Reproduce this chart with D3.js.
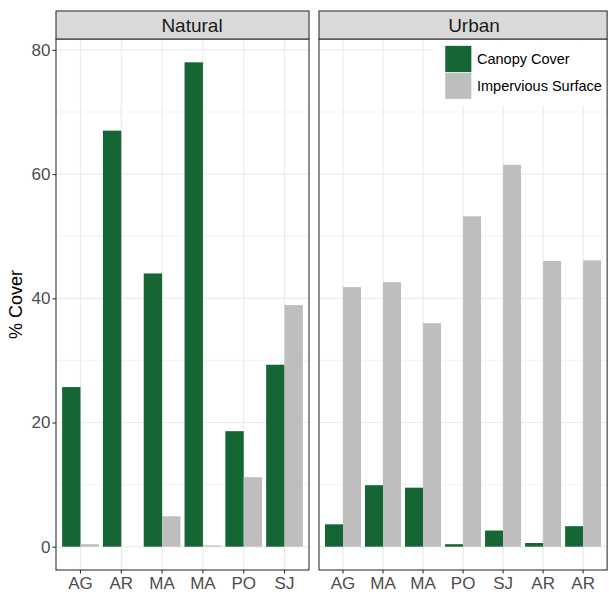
<!DOCTYPE html>
<html>
<head>
<meta charset="utf-8">
<script src="https://cdn.jsdelivr.net/npm/d3@7"></script>
<style>
  body { margin: 0; background: #fff; }
  svg { display: block; font-family: "Liberation Sans", Arial, sans-serif; }
</style>
</head>
<body>
<svg id="chart" width="609" height="597"></svg>
<script>
// ---- Data ----
const facets = ["Natural", "Urban"];
const naturalSites = ["AG", "AR", "MA", "MA", "PO", "SJ"];
const naturalCanopy = [25.7, 67.0, 44.0, 78.0, 18.6, 29.3];
const naturalImpervious = [0.4, 0.0, 4.9, 0.2, 11.2, 38.9];
const urbanSites = ["AG", "MA", "MA", "PO", "SJ", "AR", "AR"];
const urbanCanopy = [3.6, 9.9, 9.5, 0.4, 2.6, 0.6, 3.3];
const urbanImpervious = [41.8, 42.6, 36.0, 53.2, 61.5, 46.0, 46.1];
const seriesNames = ["Canopy Cover", "Impervious Surface"];
const seriesColors = ["#166534", "#bebebe"];
const yTicks = [0, 20, 40, 60, 80];
const yMinorTicks = [10, 30, 50, 70];
const yLabel = "% Cover";

// ---- Layout ----
const svg = d3.select("#chart");
const panelTop = 39, panelBottom = 570, stripTop = 11;
const natLeft = 56, natRight = 309, gap = 10;
const step = (natRight - natLeft) / (naturalSites.length + 1.2);
const stripLabelX = [192, 474];

const y = d3.scaleLinear().domain([-3.9, 81.9]).range([panelBottom + 0.9, panelTop - 0.9]);

const panels = [
  { name: facets[0], sites: naturalSites, canopy: naturalCanopy, imp: naturalImpervious, left: natLeft },
  { name: facets[1], sites: urbanSites, canopy: urbanCanopy, imp: urbanImpervious, left: natRight + gap }
];

panels.forEach((p, pi) => {
  const width = step * (p.sites.length + 1.2);
  const right = p.left + width;
  const x = d3.scaleBand()
    .domain(p.sites.map((d, i) => i))
    .range([p.left, right])
    .paddingInner(0).paddingOuter(0.1);
  const g = svg.append("g");

  const clipId = "clip" + pi;
  svg.append("clipPath").attr("id", clipId)
    .append("rect").attr("x", p.left).attr("y", panelTop).attr("width", width).attr("height", panelBottom - panelTop);
  const inner = g.append("g").attr("clip-path", `url(#${clipId})`);

  inner.append("rect").attr("x", p.left).attr("y", panelTop).attr("width", width).attr("height", panelBottom - panelTop).attr("fill", "#fff");

  // gridlines
  inner.selectAll(".hmin").data(yMinorTicks).join("line")
    .attr("x1", p.left).attr("x2", right).attr("y1", d => y(d)).attr("y2", d => y(d))
    .attr("stroke", "#ebebeb").attr("stroke-width", 0.6);
  inner.selectAll(".hmaj").data(yTicks).join("line")
    .attr("x1", p.left).attr("x2", right).attr("y1", d => y(d)).attr("y2", d => y(d))
    .attr("stroke", "#ebebeb").attr("stroke-width", 1.2);
  inner.selectAll(".vmaj").data(p.sites.map((d, i) => i)).join("line")
    .attr("x1", d => x(d) + x.bandwidth() / 2).attr("x2", d => x(d) + x.bandwidth() / 2)
    .attr("y1", panelTop).attr("y2", panelBottom)
    .attr("stroke", "#ebebeb").attr("stroke-width", 1.2);

  // bars
  const bw = x.bandwidth() * 0.45;
  [p.canopy, p.imp].forEach((vals, si) => {
    inner.selectAll(".bar" + si).data(vals).join("rect")
      .attr("x", (d, i) => x(i) + x.bandwidth() / 2 + (si === 0 ? -bw : 0))
      .attr("width", bw)
      .attr("y", d => y(Math.max(d, 0)))
      .attr("height", d => Math.abs(y(0) - y(d)))
      .attr("fill", seriesColors[si]);
  });

  // legend (Urban panel)
  if (pi === 1) {
    const lg = inner.append("g");
    lg.append("rect").attr("x", 433).attr("y", 41).attr("width", 200).attr("height", 65).attr("fill", "#fff");
    seriesNames.forEach((s, si) => {
      lg.append("rect").attr("x", 445).attr("y", 45.7 + si * 26.7).attr("width", 26.7).attr("height", 26.7)
        .attr("fill", seriesColors[si]).attr("stroke", "#fff").attr("stroke-width", 0.5);
      lg.append("text").attr("x", 477).attr("y", 59 + si * 26.7).attr("dy", "0.35em")
        .attr("font-size", 14.5).attr("fill", "#000").text(s);
    });
  }

  // panel border
  g.append("rect").attr("x", p.left).attr("y", panelTop).attr("width", width).attr("height", panelBottom - panelTop)
    .attr("fill", "none").attr("stroke", "#333").attr("stroke-width", 1.1);

  // strip
  g.append("rect").attr("x", p.left).attr("y", stripTop).attr("width", width).attr("height", panelTop - stripTop)
    .attr("fill", "#d9d9d9").attr("stroke", "#333").attr("stroke-width", 1.1);
  g.append("text").attr("x", stripLabelX[pi]).attr("y", (stripTop + panelTop) / 2)
    .attr("dy", "0.35em").attr("text-anchor", "middle").attr("font-size", 19).attr("fill", "#1a1a1a").text(p.name);

  // x axis
  const xAxis = d3.axisBottom(x).tickSize(3.5).tickPadding(3).tickFormat(i => p.sites[i]);
  const xg = g.append("g").attr("transform", `translate(0,${panelBottom})`).call(xAxis);
  xg.select(".domain").remove();
  xg.selectAll(".tick line").attr("stroke", "#333").attr("stroke-width", 1.1);
  xg.selectAll(".tick text").attr("font-size", 17).attr("fill", "#4d4d4d").attr("font-family", "Liberation Sans, Arial, sans-serif");

  // y axis on first panel
  if (pi === 0) {
    const yAxis = d3.axisLeft(y).tickValues(yTicks).tickSize(3.5).tickPadding(2);
    const yg = g.append("g").attr("transform", `translate(${p.left},0)`).call(yAxis);
    yg.select(".domain").remove();
    yg.selectAll(".tick line").attr("stroke", "#333").attr("stroke-width", 1.1);
    yg.selectAll(".tick text").attr("font-size", 17).attr("fill", "#4d4d4d").attr("font-family", "Liberation Sans, Arial, sans-serif");
  }
});

// y title
svg.append("text")
  .attr("transform", `translate(22,${(panelTop + panelBottom) / 2}) rotate(-90)`)
  .attr("text-anchor", "middle").attr("font-size", 18).attr("fill", "#000").text(yLabel);
</script>
</body>
</html>
